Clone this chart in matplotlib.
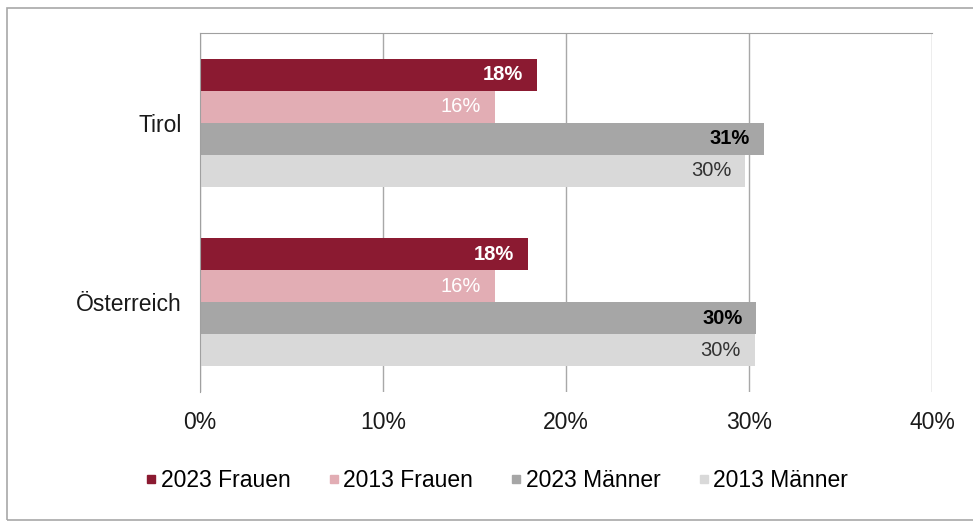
import numpy as np
import matplotlib
matplotlib.use("Agg")
from matplotlib import pyplot as plt
from matplotlib.lines import Line2D
from matplotlib.patches import Rectangle

plt.rcParams['font.family'] = ['Liberation Sans', 'DejaVu Sans']

regions = ['Österreich', 'Tirol']
series = ['2023 Frauen', '2013 Frauen', '2023 Männer', '2013 Männer']
# values in percent, per region (Österreich, Tirol)
frauen_2023 = [17.9, 18.4]
frauen_2013 = [16.1, 16.1]
maenner_2023 = [30.4, 30.8]
maenner_2013 = [30.3, 29.8]
ticks = [0, 10, 20, 30, 40]
tick_labels = ['0%', '10%', '20%', '30%', '40%']

colors = ['#8B1A31', '#E2ADB4', '#A6A6A6', '#D9D9D9']
label_colors = ['white', 'white', 'black', '#333333']
label_weights = ['bold', 'normal', 'bold', 'normal']

fig = plt.figure(figsize=(9.73, 5.29), dpi=100)
ax = fig.add_axes([0.2056, 0.259, 0.7524, 0.6786])

y = np.arange(len(regions))
h = 0.178
data = [frauen_2023, frauen_2013, maenner_2023, maenner_2013]
for i, vals in enumerate(data):
    pos = y + (1.5 - i) * h
    ax.barh(pos, vals, height=h, color=colors[i], zorder=2)
    for p, v in zip(pos, vals):
        ax.annotate(f'{v:.0f}%', (v, p), xytext=(-10, 0), textcoords='offset points',
                    ha='right', va='center', fontsize=14.5, color=label_colors[i],
                    fontweight=label_weights[i], zorder=3)

ax.set_xlim(0, 40)
ax.set_ylim(-0.5, 1.5)
ax.set_xticks(ticks)
ax.set_xticklabels(tick_labels, fontsize=16.5, color='#1a1a1a')
ax.set_yticks(y)
ax.set_yticklabels(regions, fontsize=16.5, color='#1a1a1a')
ax.tick_params(axis='x', length=0, pad=14)
ax.tick_params(axis='y', length=0, pad=13)
ax.grid(axis='x', color='#A8A8A8', linewidth=1.0, zorder=0)
ax.set_axisbelow(True)
for s in ['bottom', 'right']:
    ax.spines[s].set_visible(False)
ax.spines['top'].set_color('#A0A0A0')
ax.spines['left'].set_color('#A0A0A0')

handles = [Line2D([], [], marker='s', linestyle='none', markersize=6,
                  markerfacecolor=c, markeredgecolor=c) for c in colors]
fig.legend(handles, series, loc='center', bbox_to_anchor=(0.51, 0.091), ncol=4,
           frameon=False, fontsize=16.5, handlelength=0.6, handletextpad=0.1,
           columnspacing=1.6)

fig.patches.append(Rectangle((7 / 973, 1 - 520 / 529), 1.0, (520 - 8) / 529,
                             transform=fig.transFigure, fill=False,
                             edgecolor='#A8A8A8', linewidth=1.2))

fig.savefig('out.png', dpi=100)
